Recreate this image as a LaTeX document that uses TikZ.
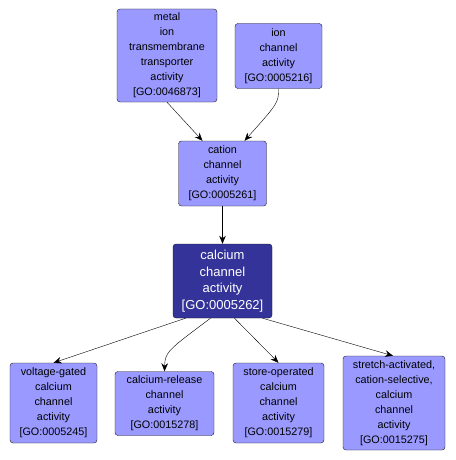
\documentclass[tikz,border=0pt]{standalone}
\usepackage{fontspec}
\setmainfont{Liberation Sans}
\usetikzlibrary{arrows.meta,calc}
\definecolor{GoLight}{HTML}{9999FF}
\definecolor{GoDark}{HTML}{333399}
\definecolor{GoEdge}{HTML}{1A1A1A}

\begin{document}
\begin{tikzpicture}[x=1pt,y=-1pt,
        term/.style={draw=GoEdge,rounded corners=3pt,fill=GoLight,align=center,inner sep=0pt,font=\fontsize{10.8}{15}\selectfont},
        focus/.style={term,fill=GoDark,text=white,font=\fontsize{13}{16.5}\selectfont},
        arr/.style={-{Stealth[length=8pt,width=6.5pt]},black}
      ]
        \useasboundingbox (0,0) rectangle (455,460);
        % top row
        \node[term,minimum width=100pt,minimum height=93pt] (metal) at (167,55.5)
          {metal\\ion\\transmembrane\\transporter\\activity\\{[GO:0046873]}};
        \node[term,minimum width=87pt,minimum height=65pt] (ionch) at (278.5,56)
          {ion\\channel\\activity\\{[GO:0005216]}};
        % middle
        \node[term,minimum width=88pt,minimum height=65pt] (cation) at (222.5,173.5)
          {cation\\channel\\activity\\{[GO:0005261]}};
        \node[focus,minimum width=99pt,minimum height=74pt] (calcium) at (222.5,281)
          {calcium\\channel\\activity\\{[GO:0005262]}};
        % bottom row
        \node[term,minimum width=87pt,minimum height=80pt] (voltage) at (53.5,403)
          {voltage-gated\\calcium\\channel\\activity\\{[GO:0005245]}};
        \node[term,minimum width=99pt,minimum height=64pt] (release) at (164.5,403.5)
          {calcium-release\\channel\\activity\\{[GO:0015278]}};
        \node[term,minimum width=91pt,minimum height=80pt] (store) at (278.5,403)
          {store-operated\\calcium\\channel\\activity\\{[GO:0015279]}};
        \node[term,minimum width=102pt,minimum height=94pt] (stretch) at (394,403)
          {stretch-activated,\\cation-selective,\\calcium\\channel\\activity\\{[GO:0015275]}};
        % edges
        \draw[arr] (metal.south) -- ($(cation.north)+(-20,0)$);
        \draw[arr] (ionch.south) .. controls +(0,14) .. ($(cation.north)+(22,0)$);
        \draw[arr] (cation.south) -- (calcium.north);
        \draw[arr] ($(calcium.south)+(-37,0)$) -- ($(voltage.north)+(0,0)$);
        \draw[arr] ($(calcium.south)+(-12,0)$) .. controls (168,350) and (165,352) .. (release.north);
        \draw[arr] ($(calcium.south)+(12,0)$) -- (store.north);
        \draw[arr] ($(calcium.south)+(40,0)$) -- ($(stretch.north)+(-1,0)$);
      \end{tikzpicture}
\end{document}
